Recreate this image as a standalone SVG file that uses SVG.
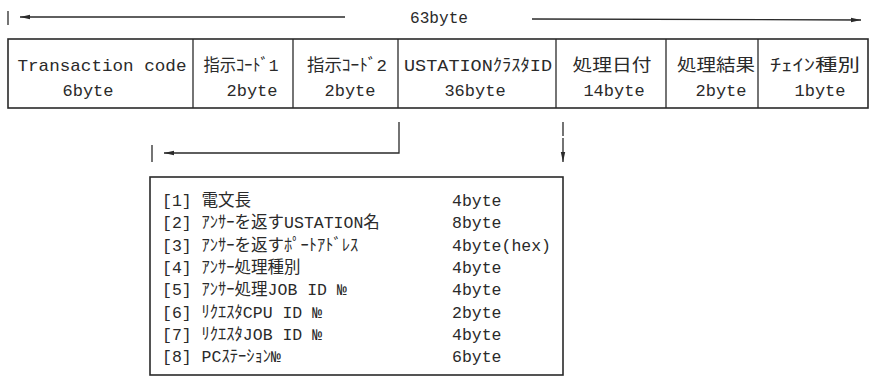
<svg xmlns="http://www.w3.org/2000/svg" width="870" height="381" viewBox="0 0 870 381">
<style>
.ln{stroke:#2a2a2a;stroke-width:1.6;fill:none}
.thin{stroke:#2a2a2a;stroke-width:1.3;fill:none}
.t{font-family:"Liberation Mono","Noto Sans CJK JP",monospace;font-size:17px;fill:#2a2a2a}
.l{font-family:"Liberation Mono","Noto Sans CJK JP",monospace;font-size:16.5px;fill:#2a2a2a}
</style>
<defs>
<marker id="ah" viewBox="0 0 10 6" refX="10" refY="3" markerWidth="10" markerHeight="6" markerUnits="userSpaceOnUse" orient="auto">
<path d="M0,0.8 L10,3 L0,5.2 Z" fill="#2a2a2a"/>
</marker>
</defs>
<rect width="870" height="381" fill="#ffffff"/>

<g id="width-label">
<line class="thin" x1="8" y1="11" x2="8" y2="25"/>
<line class="thin" x1="345" y1="17" x2="20" y2="17" marker-end="url(#ah)"/>
<text class="t" x="439" y="23" text-anchor="middle" textLength="58" lengthAdjust="spacingAndGlyphs">63byte</text>
<line class="thin" x1="532" y1="19" x2="861" y2="20" marker-end="url(#ah)"/>
</g>

<g id="record">
<rect class="ln" x="8" y="39" width="860" height="69"/>
<line class="thin" x1="193" y1="39" x2="193" y2="108"/>
<line class="thin" x1="293" y1="39" x2="293" y2="108"/>
<line class="thin" x1="398" y1="39" x2="398" y2="108"/>
<line class="thin" x1="556" y1="39" x2="556" y2="108"/>
<line class="thin" x1="666" y1="39" x2="666" y2="108"/>
<line class="thin" x1="758" y1="39" x2="758" y2="108"/>
</g>
<g id="f-transaction">
<text class="t" x="102" y="71" text-anchor="middle" textLength="169" lengthAdjust="spacingAndGlyphs">Transaction code</text>
<text class="t" x="88" y="96" text-anchor="middle">6byte</text>
</g>
<g id="f-code1">
<text class="t" x="241" y="71" text-anchor="middle" textLength="75" lengthAdjust="spacingAndGlyphs">指示ｺｰﾄﾞ1</text>
<text class="t" x="252" y="96" text-anchor="middle">2byte</text>
</g>
<g id="f-code2">
<text class="t" x="347" y="71" text-anchor="middle" textLength="80" lengthAdjust="spacingAndGlyphs">指示ｺｰﾄﾞ2</text>
<text class="t" x="350" y="96" text-anchor="middle">2byte</text>
</g>
<g id="f-cluster">
<text class="t" x="478" y="71" text-anchor="middle" textLength="148" lengthAdjust="spacingAndGlyphs">USTATIONｸﾗｽﾀID</text>
<text class="t" x="475" y="96" text-anchor="middle">36byte</text>
</g>
<g id="f-date">
<text class="t" x="612" y="71" text-anchor="middle" textLength="79" lengthAdjust="spacingAndGlyphs">処理日付</text>
<text class="t" x="614" y="96" text-anchor="middle">14byte</text>
</g>
<g id="f-result">
<text class="t" x="716" y="71" text-anchor="middle" textLength="78" lengthAdjust="spacingAndGlyphs">処理結果</text>
<text class="t" x="721" y="96" text-anchor="middle">2byte</text>
</g>
<g id="f-chain">
<text class="t" x="815" y="71" text-anchor="middle" textLength="90" lengthAdjust="spacingAndGlyphs">ﾁｪｲﾝ種別</text>
<text class="t" x="820" y="96" text-anchor="middle">1byte</text>
</g>

<g id="connectors">
<polyline class="thin" points="399,122 399,153 164,153" marker-end="url(#ah)"/>
<line class="thin" x1="152" y1="145" x2="152" y2="162"/>
<line class="thin" x1="563" y1="122" x2="563" y2="162" stroke-dasharray="14 2" marker-end="url(#ah)"/>
</g>

<g id="detail">
<rect class="ln" x="150" y="177" width="413" height="198"/>
<text class="l" x="162" y="206">[1] 電文長</text>
<text class="l" x="162" y="228">[2] ｱﾝｻｰを返すUSTATION名</text>
<text class="l" x="162" y="251">[3] ｱﾝｻｰを返すﾎﾟｰﾄｱﾄﾞﾚｽ</text>
<text class="l" x="162" y="273">[4] ｱﾝｻｰ処理種別</text>
<text class="l" x="162" y="295">[5] ｱﾝｻｰ処理JOB ID №</text>
<text class="l" x="162" y="318">[6] ﾘｸｴｽﾀCPU ID №</text>
<text class="l" x="162" y="340">[7] ﾘｸｴｽﾀJOB ID №</text>
<text class="l" x="162" y="362">[8] PCｽﾃｰｼｮﾝ№</text>
<text class="l" x="452" y="206">4byte</text>
<text class="l" x="452" y="228">8byte</text>
<text class="l" x="452" y="251">4byte(hex)</text>
<text class="l" x="452" y="273">4byte</text>
<text class="l" x="452" y="295">4byte</text>
<text class="l" x="452" y="318">2byte</text>
<text class="l" x="452" y="340">4byte</text>
<text class="l" x="452" y="362">6byte</text>
</g>
</svg>
